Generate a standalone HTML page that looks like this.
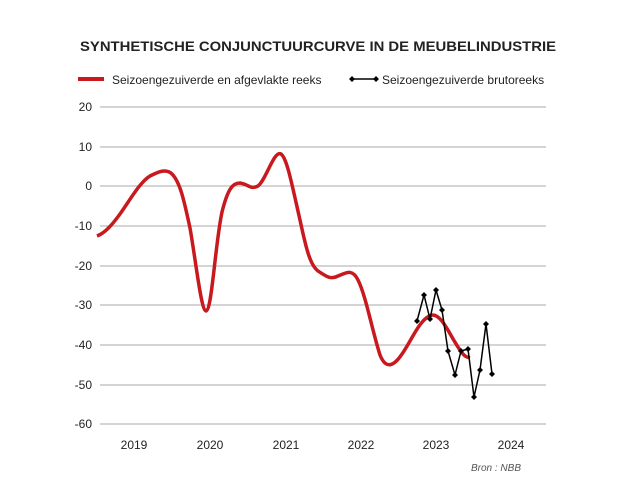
<!DOCTYPE html><html><head><style>body{margin:0;background:#fff}svg{display:block;font-family:"Liberation Sans",sans-serif}</style></head><body>
<svg width="626" height="481" viewBox="0 0 626 481">
<text x="80" y="51" textLength="476" lengthAdjust="spacingAndGlyphs" font-size="14" font-weight="bold" fill="#222">SYNTHETISCHE CONJUNCTUURCURVE IN DE MEUBELINDUSTRIE</text>
<line x1="78" y1="79" x2="104" y2="79" stroke="#c8191e" stroke-width="4"/>
<text x="112" y="84" font-size="12" fill="#222">Seizoengezuiverde en afgevlakte reeks</text>
<line x1="352" y1="79" x2="376" y2="79" stroke="#000" stroke-width="1.5"/>
<path d="M352,76l3,3l-3,3l-3,-3zM376,76l3,3l-3,3l-3,-3z" fill="#000"/>
<text x="382" y="84" font-size="12" fill="#222">Seizoengezuiverde brutoreeks</text>
<g stroke="#a8a8a8" stroke-width="1">
<line x1="100" y1="107" x2="546" y2="107"/><line x1="100" y1="147" x2="546" y2="147"/><line x1="100" y1="186" x2="546" y2="186"/><line x1="100" y1="226" x2="546" y2="226"/><line x1="100" y1="266" x2="546" y2="266"/><line x1="100" y1="305" x2="546" y2="305"/><line x1="100" y1="345" x2="546" y2="345"/><line x1="100" y1="385" x2="546" y2="385"/><line x1="100" y1="424" x2="546" y2="424"/>
</g>
<g font-size="12" fill="#222" text-anchor="end">
<text x="92" y="111">20</text><text x="92" y="151">10</text><text x="92" y="190">0</text><text x="92" y="230">-10</text><text x="92" y="270">-20</text><text x="92" y="309">-30</text><text x="92" y="349">-40</text><text x="92" y="389">-50</text><text x="92" y="428">-60</text>
</g>
<g font-size="12" fill="#222" text-anchor="middle">
<text x="134" y="449">2019</text><text x="210" y="449">2020</text><text x="286" y="449">2021</text><text x="361" y="449">2022</text><text x="436" y="449">2023</text><text x="511" y="449">2024</text>
</g>
<text x="521" y="471" font-size="10" font-style="italic" fill="#555" text-anchor="end">Bron : NBB</text>
<path d="M97,236 C105,233 112,225 120,214 C130,200 140,182 150,176 C158,172 166,168 172,174 C180,182 184,200 190,228 C196,262 201,310 206,311 C212,310 215,245 222,212 C228,188 233,183 240,183 C248,184 250,190 258,186 C266,180 274,150 281,154 C287,158 292,185 300,220 C306,248 310,265 318,271 C326,276 330,280 338,276 C346,273 352,268 358,280 C366,296 372,330 380,355 C386,370 394,366 402,354 C412,340 420,318 432,315 C442,314 450,336 460,350 C464,356 466,357 470,358" fill="none" stroke="#c8191e" stroke-width="3.5" stroke-linejoin="round"/>
<polyline points="417,321 424,295 430,319 436,290 442,310 448,351 455,375 461,351 468,349 474,397 480,370 486,324 492,374" fill="none" stroke="#000" stroke-width="1.5"/>
<g fill="#000">
<path d="M417,318l3,3l-3,3l-3,-3zM424,292l3,3l-3,3l-3,-3zM430,316l3,3l-3,3l-3,-3zM436,287l3,3l-3,3l-3,-3zM442,307l3,3l-3,3l-3,-3zM448,348l3,3l-3,3l-3,-3zM455,372l3,3l-3,3l-3,-3zM461,348l3,3l-3,3l-3,-3zM468,346l3,3l-3,3l-3,-3zM474,394l3,3l-3,3l-3,-3zM480,367l3,3l-3,3l-3,-3zM486,321l3,3l-3,3l-3,-3zM492,371l3,3l-3,3l-3,-3z"/>
</g>
</svg></body></html>
